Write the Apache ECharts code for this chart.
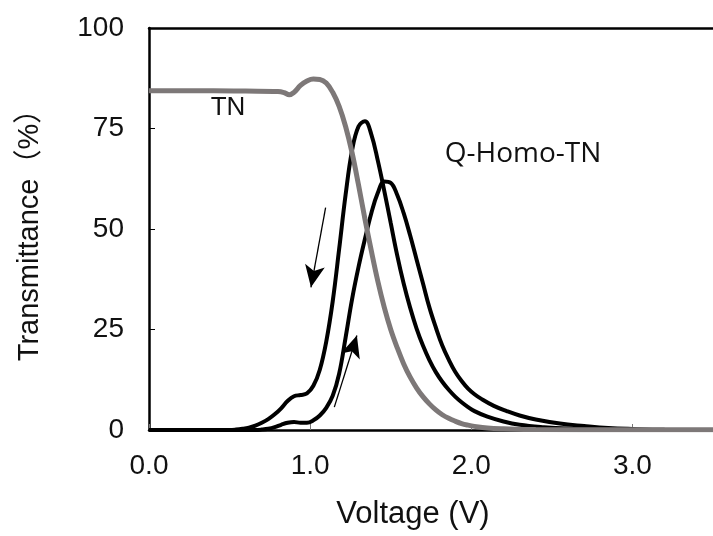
<!DOCTYPE html>
<html>
<head>
<meta charset="utf-8">
<script src="https://cdn.jsdelivr.net/npm/echarts@6/dist/echarts.min.js"></script>
<style>
  html, body { margin: 0; padding: 0; background: #fff; }
  #chart1 { width: 713px; height: 536px; }
</style>
</head>
<body>
<div id="chart1"></div>
<script>
// TN cell (grey curve)
const tnVoltage = [0.00, 0.20, 0.40, 0.60, 0.80, 0.84, 0.87, 0.90, 0.94, 0.98, 1.02, 1.06, 1.10, 1.14, 1.18, 1.22, 1.26, 1.30, 1.34, 1.38, 1.42, 1.46, 1.50, 1.54, 1.58, 1.62, 1.66, 1.70, 1.74, 1.78, 1.82, 1.86, 1.90, 1.94, 1.98, 2.02, 2.10, 2.20, 2.40, 3.00, 3.50]
const tnTrans   = [84.4, 84.4, 84.4, 84.3, 84.2, 83.9, 83.4, 84.0, 85.7, 86.8, 87.3, 87.2, 86.3, 84.0, 80.5, 75.5, 69.0, 61.0, 52.5, 44.5, 37.0, 30.5, 25.0, 20.5, 16.5, 13.2, 10.5, 8.3, 6.5, 5.0, 3.8, 2.9, 2.2, 1.6, 1.2, 0.9, 0.5, 0.3, 0.1, 0.05, 0.05]

// Q-Homo-TN, decreasing voltage (higher peak)
const downVoltage = [0.00, 0.50, 0.54, 0.58, 0.62, 0.66, 0.70, 0.74, 0.78, 0.82, 0.86, 0.90, 0.94, 0.98, 1.02, 1.06, 1.10, 1.14, 1.18, 1.22, 1.26, 1.30, 1.34, 1.38, 1.42, 1.46, 1.50, 1.54, 1.58, 1.62, 1.66, 1.70, 1.74, 1.78, 1.82, 1.86, 1.90, 1.94, 1.98, 2.02, 2.10, 2.20, 2.30, 2.45, 2.60, 2.80, 3.00, 3.50]
const downTrans   = [0, 0, 0.1, 0.3, 0.6, 1.1, 1.8, 2.7, 3.9, 5.4, 7.2, 8.4, 8.7, 9.1, 11.0, 15.0, 22.0, 32.0, 45.0, 58.5, 69.5, 75.5, 76.8, 73.5, 67.0, 59.5, 51.5, 43.5, 36.5, 30.5, 25.3, 21.0, 17.4, 14.4, 12.0, 10.0, 8.3, 6.9, 5.7, 4.7, 3.3, 2.1, 1.3, 0.7, 0.35, 0.15, 0.05, 0]

// Q-Homo-TN, increasing voltage (lower peak)
const upVoltage = [0.00, 0.66, 0.70, 0.74, 0.78, 0.82, 0.86, 0.90, 0.94, 0.98, 1.02, 1.06, 1.10, 1.14, 1.18, 1.22, 1.26, 1.30, 1.34, 1.38, 1.42, 1.46, 1.50, 1.54, 1.58, 1.62, 1.66, 1.70, 1.74, 1.78, 1.82, 1.86, 1.90, 1.94, 1.98, 2.02, 2.06, 2.14, 2.22, 2.30, 2.40, 2.55, 2.70, 2.85, 3.00, 3.20, 3.50]
const upTrans   = [0, 0, 0.1, 0.3, 0.7, 1.3, 1.8, 2.0, 1.8, 1.8, 2.4, 3.6, 5.5, 8.5, 14.0, 23.0, 32.5, 40.5, 47.5, 54.0, 59.0, 61.8, 61.5, 58.5, 54.0, 48.5, 42.5, 36.5, 30.5, 25.5, 21.0, 17.5, 14.5, 12.2, 10.3, 8.9, 7.8, 6.0, 4.7, 3.6, 2.6, 1.6, 1.0, 0.5, 0.25, 0.05, 0]

const xTicks = [0, 1, 2, 3]
const yTicks = [0, 25, 50, 75, 100]

// sweep direction arrows [from, to] in (V, %)
const arrowDown = [[1.096, 55.3], [1.005, 35.5]]
const arrowUp   = [[1.15, 5.7], [1.29, 23.5]]

function pairs(xs, ys){
  return xs.map((x, i) => [x, ys[i]])
}

const labelFont = '"Liberation Sans", Arial, sans-serif'

let chart = echarts.init(document.getElementById('chart1'))
let options = {
  animation: false,
  backgroundColor: '#fff',
  grid: {
    left: 149,
    right: -11,
    top: 28,
    bottom: 106,
    containLabel: false
  },
  xAxis: [{
    type: 'value',
    min: 0,
    max: 3.5,
    interval: 1,
    axisLine: { show: true, onZero: false, lineStyle: { color: '#000', width: 2.5 } },
    axisTick: { show: true, inside: true, length: 6, lineStyle: { color: '#777', width: 1 } },
    axisLabel: {
      margin: 22,
      fontSize: 28,
      fontFamily: labelFont,
      color: '#111',
      showMaxLabel: false,
      formatter: v => xTicks.indexOf(v) >= 0 ? v.toFixed(1) : ''
    },
    splitLine: { show: false }
  }, {
    type: 'value',
    position: 'top',
    min: 0,
    max: 3.5,
    axisLine: { show: true, onZero: false, lineStyle: { color: '#000', width: 2.5 } },
    axisTick: { show: false },
    axisLabel: { show: false },
    splitLine: { show: false }
  }],
  yAxis: {
    type: 'value',
    min: 0,
    max: 100,
    interval: 25,
    axisLine: { show: true, onZero: false, lineStyle: { color: '#000', width: 2.5 } },
    axisTick: { show: true, inside: true, length: 6, lineStyle: { color: '#000', width: 1 } },
    axisLabel: {
      margin: 25,
      fontSize: 28,
      fontFamily: labelFont,
      color: '#111',
      formatter: v => yTicks.indexOf(v) >= 0 ? String(v) : ''
    },
    splitLine: { show: false }
  },
  series: [{
    name: 'Q-Homo-TN down',
    type: 'line',
    data: pairs(downVoltage, downTrans),
    smooth: 0.4,
    showSymbol: false,
    lineStyle: { color: '#000', width: 4 },
    markLine: {
      silent: true,
      symbol: ['none', 'arrow'],
      symbolSize: [15, 22],
      label: { show: false },
      lineStyle: { color: '#000', width: 1.3, type: 'solid' },
      data: [
        [{ coord: arrowDown[0] }, { coord: arrowDown[1] }],
        [{ coord: arrowUp[0] }, { coord: arrowUp[1] }]
      ]
    }
  }, {
    name: 'Q-Homo-TN up',
    type: 'line',
    data: pairs(upVoltage, upTrans),
    smooth: 0.4,
    showSymbol: false,
    lineStyle: { color: '#000', width: 4 }
  }, {
    name: 'TN',
    type: 'line',
    data: pairs(tnVoltage, tnTrans),
    smooth: 0.4,
    showSymbol: false,
    lineStyle: { color: '#7d7878', width: 5 }
  }],
  graphic: [{
    type: 'text',
    x: 30, y: 228,
    rotation: Math.PI / 2,
    style: {
      text: 'Transmittance（%）',
      font: '29px "Liberation Sans", "Noto Sans CJK JP", sans-serif',
      fill: '#111',
      align: 'center',
      verticalAlign: 'middle'
    }
  }, {
    type: 'text',
    x: 413, y: 514,
    style: {
      text: 'Voltage (V)',
      font: '31px "Liberation Sans", Arial, sans-serif',
      fill: '#111',
      align: 'center',
      verticalAlign: 'middle'
    }
  }, {
    type: 'text',
    x: 228, y: 108,
    style: {
      text: 'TN',
      font: '26px "Liberation Sans", Arial, sans-serif',
      fill: '#111',
      align: 'center',
      verticalAlign: 'middle'
    }
  }, {
    type: 'text',
    x: 523, y: 154,
    style: {
      text: 'Q-Homo-TN',
      font: '28px "Open Sans", sans-serif',
      fill: '#111',
      align: 'center',
      verticalAlign: 'middle'
    }
  }]
}
chart.setOption(options)
</script>
</body>
</html>
